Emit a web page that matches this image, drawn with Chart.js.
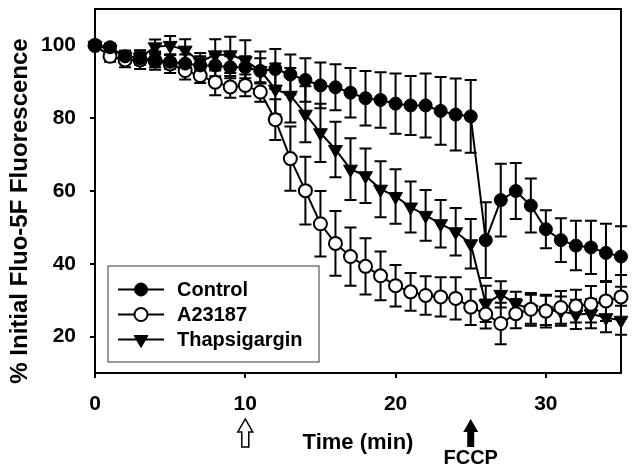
<!DOCTYPE html>
<html><head><meta charset="utf-8">
<script src="https://cdn.jsdelivr.net/npm/chart.js@4.4.1/dist/chart.umd.min.js"></script>
<style>html,body{margin:0;padding:0;background:#fff;}#wrap{width:632px;height:469px;position:relative;}</style>
</head><body><div id="wrap"><canvas id="c" width="632" height="469"></canvas></div>
<script>
const timeMin = [0,1,2,3,4,5,6,7,8,9,10,11,12,13,14,15,16,17,18,19,20,21,22,23,24,25,26,27,28,29,30,31,32,33,34,35];
const controlMean = [100,99.5,97,96.5,96,95.5,95,94.5,94.5,94,94,93,93.5,92,90.5,89,88.5,87,85.5,85,84,83.5,83.5,82,81,80.5,46.5,57.5,60,56,49.5,46.5,45,44.5,43,42];
const controlErr  = [0.5,1,1.5,1.5,2,2,2.5,2.5,3,3,3,3.5,5.5,5.5,6,6.3,6.3,6.8,7.5,7.6,8.3,8.1,8.8,9.3,9.9,10,10.4,10,7.7,7.4,5.2,6,6.8,7.3,8,8.3];
const a23187Mean  = [100,97,96,96,95.8,94.9,93.1,91.7,89.9,88.6,89,87.2,79.6,68.9,60.1,51,45.6,42,39.3,36.7,34,32.3,31.3,30.9,30.5,28.1,26.2,23.6,26.3,27.5,27,28,28.4,28.9,29.8,30.9];
const a23187Err   = [0.5,1.5,2,2.5,2.5,2.5,2.5,2,3.6,3,3,2.7,5.6,8.8,9.3,9,8.9,8,7.7,6.7,5.7,5.2,5.3,5.4,5.8,4.9,4,5.7,4,4.5,4.5,4.5,4.5,5,5.5,6];
const thapsMean   = [100,99,97,96.7,99.6,100,98.7,95.5,97.4,97.4,95.8,93.1,88,86.3,81.1,76,71.4,66,64.2,60.5,58.5,55.6,53.3,51,48.8,45.5,29,31.6,29,27.5,27.2,27,26.1,26.3,25.2,24.5];
const thapsErr    = [0.5,1,1.5,2,2,2.6,3,2.4,4.3,5,5.6,5.2,7,7.5,7.7,8,7.6,8.5,7.5,7.7,7.5,7,7,6.5,6.5,6.8,5,3.6,3.3,4,4,4,4,4,4,4];
const seriesLabels = ['Control','A23187','Thapsigargin'];
const xTicks = [0,10,20,30];
const yTicks = [20,40,60,80,100];
const xTitle = 'Time (min)';
const yTitle = '% Initial Fluo-5F Fluorescence';
const markerTimes = [10,25];
const markerText = 'FCCP';

const FONT = '"Liberation Sans", Arial, sans-serif';
Chart.defaults.font.family = FONT;
Chart.defaults.color = '#000';

function pts(mean){ return timeMin.map((t,i)=>({x:t,y:mean[i]})); }
const errs = [controlErr, a23187Err, thapsErr];
const means = [controlMean, a23187Mean, thapsMean];

const datasets = [
  {label:seriesLabels[0], data:pts(controlMean), borderColor:'#000', borderWidth:2, pointStyle:'circle', pointRadius:6.5, pointBackgroundColor:'#000', pointBorderColor:'#000', pointBorderWidth:1, clip:false, tension:0},
  {label:seriesLabels[1], data:pts(a23187Mean), borderColor:'#000', borderWidth:2, pointStyle:'circle', pointRadius:6.5, pointBackgroundColor:'#fff', pointBorderColor:'#000', pointBorderWidth:2, clip:false, tension:0},
  {label:seriesLabels[2], data:pts(thapsMean), borderColor:'#000', borderWidth:2, pointStyle:'triangle', pointRotation:180, pointRadius:8, pointBackgroundColor:'#000', pointBorderColor:'#000', pointBorderWidth:1, clip:false, tension:0}
];

const errorBars = {
  id:'errorBars',
  beforeDatasetsDraw(chart){
    const {ctx, chartArea:a, scales:{x,y}} = chart;
    ctx.save();
    ctx.strokeStyle='#000'; ctx.lineWidth=2;
    ctx.beginPath();
    ctx.moveTo(a.left,a.top); ctx.lineTo(a.right,a.top); ctx.lineTo(a.right,a.bottom);
    ctx.stroke();
    for(let d=means.length-1; d>=0; d--){
      timeMin.forEach((t,i)=>{
        const px = x.getPixelForValue(t);
        const yt = y.getPixelForValue(means[d][i]+errs[d][i]);
        const yb = y.getPixelForValue(means[d][i]-errs[d][i]);
        ctx.beginPath();
        ctx.moveTo(px,yt); ctx.lineTo(px,yb);
        ctx.moveTo(px-6,yt); ctx.lineTo(px+6,yt);
        ctx.moveTo(px-6,yb); ctx.lineTo(px+6,yb);
        ctx.stroke();
      });
    }
    ctx.restore();
  },
  afterDraw(chart){
    const {ctx, scales:{x}} = chart;
    ctx.save();
    // y axis title
    ctx.save();
    ctx.translate(20, 211); ctx.rotate(-Math.PI/2);
    ctx.fillStyle='#000'; ctx.font='bold 24px '+FONT; ctx.textAlign='center'; ctx.textBaseline='middle';
    ctx.fillText(yTitle, 0, 0);
    ctx.restore();
    // legend
    const L = {l:108, t:266, r:319, b:362};
    ctx.strokeStyle='#555'; ctx.lineWidth=1.2;
    ctx.strokeRect(L.l, L.t, L.r-L.l, L.b-L.t);
    const rows=[289.5,314.5,339.5];
    chart.data.datasets.forEach((ds,i)=>{
      const yy=rows[i];
      ctx.strokeStyle='#000'; ctx.lineWidth=2;
      ctx.beginPath(); ctx.moveTo(118,yy); ctx.lineTo(164,yy); ctx.stroke();
      ctx.fillStyle=ds.pointBackgroundColor; ctx.strokeStyle='#000'; ctx.lineWidth=ds.pointBorderWidth;
      Chart.helpers.drawPoint(ctx,{pointStyle:ds.pointStyle, rotation:ds.pointRotation||0, radius:ds.pointRadius, borderWidth:ds.pointBorderWidth}, 141, yy);
      ctx.fillStyle='#000'; ctx.font='bold 20px '+FONT; ctx.textAlign='left'; ctx.textBaseline='middle';
      ctx.fillText(ds.label, 177, yy+1);
    });
    // arrows
    function arrow(cx, filled){
      ctx.beginPath();
      ctx.moveTo(cx-3.5,447); ctx.lineTo(cx-3.5,432); ctx.lineTo(cx-7.5,432); ctx.lineTo(cx,419);
      ctx.lineTo(cx+7.5,432); ctx.lineTo(cx+3.5,432); ctx.lineTo(cx+3.5,447); ctx.closePath();
      if(filled){ctx.fillStyle='#000'; ctx.fill();}
      else {ctx.fillStyle='#fff'; ctx.fill(); ctx.strokeStyle='#000'; ctx.lineWidth=1.5; ctx.stroke();}
    }
    arrow(x.getPixelForValue(markerTimes[0]), false);
    arrow(x.getPixelForValue(markerTimes[1]), true);
    ctx.fillStyle='#000'; ctx.font='bold 20px '+FONT; ctx.textAlign='center'; ctx.textBaseline='middle';
    ctx.fillText(markerText, x.getPixelForValue(markerTimes[1]), 458);
    ctx.restore();
  }
};

new Chart(document.getElementById('c'), {
  type:'line',
  data:{datasets},
  options:{
    responsive:false, animation:false, devicePixelRatio:1,
    layout:{padding:{top:4,right:11,left:0,bottom:0}},
    plugins:{legend:{display:false}, tooltip:{enabled:false}},
    scales:{
      x:{type:'linear', min:0, max:35,
        afterBuildTicks:s=>{s.ticks=xTicks.map(v=>({value:v}));},
        afterFit:s=>{s.height=96; s.paddingLeft=0; s.paddingRight=0;},
        grid:{display:true, drawOnChartArea:false, drawTicks:true, tickLength:5, color:'#000', lineWidth:2},
        border:{display:true, color:'#000', width:2},
        ticks:{color:'#000', font:{size:21, weight:'bold'}, padding:14, maxRotation:0, autoSkip:false},
        title:{display:true, text:xTitle, color:'#000', font:{size:22, weight:'bold'}, padding:{top:0,bottom:13}}
      },
      y:{type:'linear', min:10, max:110,
        afterBuildTicks:s=>{s.ticks=yTicks.map(v=>({value:v}));},
        afterFit:s=>{s.width=95; s.paddingTop=0; s.paddingBottom=0;},
        grid:{display:true, drawOnChartArea:false, drawTicks:true, tickLength:5, color:'#000', lineWidth:2},
        border:{display:true, color:'#000', width:2},
        ticks:{color:'#000', font:{size:21, weight:'bold'}, padding:14, autoSkip:false},
        title:{display:false, text:yTitle}
      }
    }
  },
  plugins:[errorBars]
});
</script></body></html>
